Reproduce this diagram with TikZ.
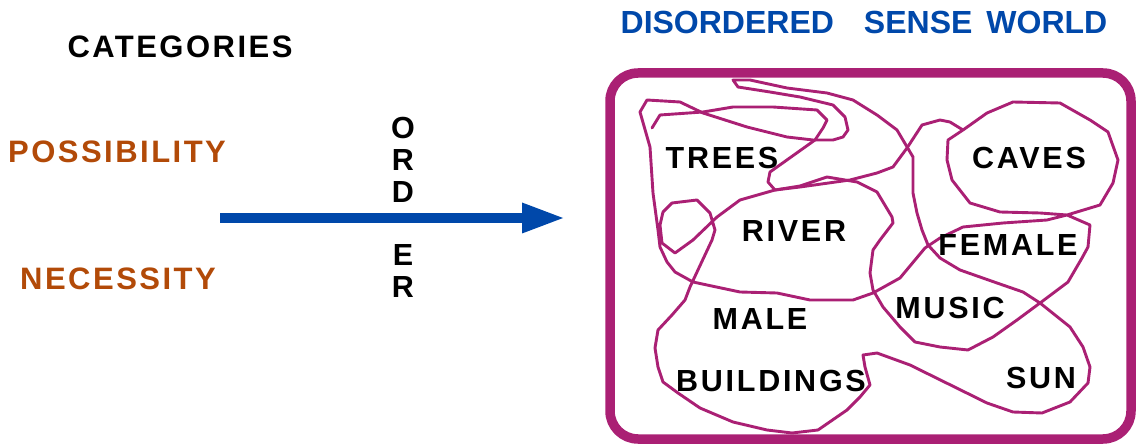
\documentclass[tikz,border=0pt]{standalone}
\usepackage{fontspec}
\usepackage{xcolor}
\usetikzlibrary{arrows.meta}
\setmainfont{Liberation Sans}
\newfontfamily\outerfont{Liberation Sans}[LetterSpace=8]
\newfontfamily\wordfont{Liberation Sans}[LetterSpace=9]
\definecolor{orderblue}{RGB}{0,72,170}
\definecolor{worldpink}{RGB}{170,32,116}
\definecolor{catbrown}{RGB}{178,74,8}

\begin{document}
\begin{tikzpicture}[x=1pt,y=-1pt,
    outer/.style={inner sep=0pt, font=\outerfont\bfseries\fontsize{31}{31}\selectfont},
    word/.style={inner sep=0pt, font=\wordfont\bfseries\fontsize{30.5}{32}\selectfont},
    tangle/.style={worldpink, line width=2.9pt, line join=round, line cap=round},
]
\useasboundingbox (0,0) rectangle (1141,446);

\node [outer] (categories) at (180,47){CATEGORIES};
\node [outer, catbrown] (possibility) at (117,152){POSSIBILITY};
\node [outer, catbrown] (necessity) at (118,279){NECESSITY};

\coordinate (arrowstart) at (220,218);
\coordinate (arrowend) at (563,218);
\draw [orderblue, line width=10pt, -{Triangle[length=41pt,width=31pt,line width=0pt]}] (arrowstart) -- (arrowend);
\node [word, align=center] (ordtop) at (403,159.5){O\\R\\D};
\node [word, align=center] (ordbottom) at (403,271){E\\R};

\node [inner sep=0pt, orderblue, font=\bfseries\fontsize{32}{32}\selectfont] (worldtitle) at (864,22.5){DISORDERED\hspace{30pt}SENSE\hspace{14pt}WORLD};
\draw [worldpink, line width=9.5pt, rounded corners=28pt] (610,73) rectangle (1131,439);

\draw [tangle] (733,80) -- (738,87) -- (770,92) -- (800,97) -- (833,105) -- (845,117) -- (848,130) -- (843,137)
  -- (833,140) -- (813,140) -- (787,137) -- (747,127) -- (703,113) -- (680,102) -- (647,100) -- (640,112)
  -- (650,147) -- (653,193) -- (658,230) -- (660,247) -- (667,262) -- (675,272) -- (693,282) -- (707,285)
  -- (740,292) -- (777,293) -- (810,300) -- (853,300) -- (873,293) -- (900,278) -- (915,260) -- (925,248)
  -- (940,238) -- (963,227) -- (1003,223) -- (1047,220) -- (1067,215) -- (1100,205) -- (1113,183) -- (1118,160)
  -- (1108,132) -- (1090,120) -- (1060,103) -- (1013,102) -- (987,113) -- (963,130) -- (948,140) -- (947,160)
  -- (952,180) -- (970,203) -- (1000,212) -- (1040,213) -- (1067,215) -- (1090,225) -- (1088,247) -- (1082,258)
  -- (1068,282) -- (1040,303) -- (1017,320) -- (993,337) -- (968,350) -- (940,347) -- (915,342) -- (900,327)
  -- (883,307) -- (873,290) -- (870,273) -- (873,250) -- (880,240) -- (893,223) -- (892,217) -- (877,192)
  -- (857,182) -- (827,177) -- (800,186) -- (775,190) -- (740,200) -- (717,217) -- (693,240) -- (675,253)
  -- (662,243) -- (660,225) -- (663,212) -- (672,203) -- (697,200) -- (710,213) -- (715,230) -- (712,240)
  -- (697,272) -- (690,287) -- (685,300) -- (672,315) -- (658,330) -- (655,348) -- (658,367) -- (663,382)
  -- (678,393) -- (700,408) -- (733,422) -- (767,430) -- (792,433) -- (818,430) -- (847,410) -- (860,397)
  -- (870,385) -- (865,367) -- (863,355) -- (877,353) -- (910,365) -- (987,403) -- (1013,412) -- (1042,413)
  -- (1070,402) -- (1088,383) -- (1090,367) -- (1083,347) -- (1070,327) -- (1040,303) -- (1023,292) -- (997,283)
  -- (960,270) -- (940,258) -- (928,245) -- (922,230) -- (917,213) -- (913,193) -- (913,157) -- (897,130)
  -- (877,115) -- (853,100) -- (827,93) -- (787,88) -- (750,80) -- cycle;
\draw [tangle] (652,128) -- (660,115) -- (703,112) -- (733,107) -- (773,107) -- (817,110) -- (827,120)
  -- (823,128) -- (815,140) -- (770,172) -- (768,182) -- (775,190) -- (800,187) -- (850,180) -- (877,173)
  -- (893,167) -- (907,148) -- (922,125) -- (940,120) -- (950,122) -- (963,130);

\node [word] (trees) at (722,158){TREES};
\node [word] (caves) at (1029,158){CAVES};
\node [word] (river) at (794,231){RIVER};
\node [word] (female) at (1008,245){FEMALE};
\node [word] (male) at (760,319){MALE};
\node [word] (music) at (950,308){MUSIC};
\node [word] (buildings) at (771,381){BUILDINGS};
\node [word] (sun) at (1041,378){SUN};

\end{tikzpicture}
\end{document}
